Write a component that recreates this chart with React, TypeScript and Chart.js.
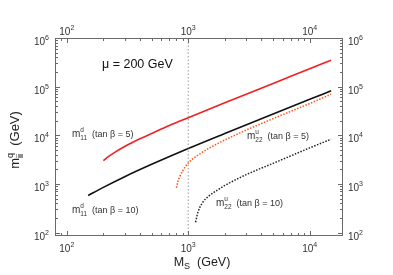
import React, { useEffect, useRef } from 'react';
import { Chart, registerables } from 'chart.js';
Chart.register(...registerables);

const FONT = '"Liberation Sans", Arial, Helvetica, sans-serif';

// axis ranges
const xMin = 80;
const xMax = 18800;
const yMin = 85;
const yMax = 1e6;

// major tick labels (10^k)
const xTickValues = [100, 1000, 10000];
const xTickExps = ['2', '3', '4'];
const yTickValues = [100, 1000, 10000, 100000, 1000000];
const yTickExps = ['2', '3', '4', '5', '6'];

// m11^d (tan beta = 5) - red solid
const redMs = [200, 220, 250, 300, 400, 500, 700, 1000, 2000, 5000, 10000, 15000];
const redM = [3000, 3630, 4510, 5880, 8450, 10900, 15900, 23000, 46500, 116000, 233000, 350000];

// m11^d (tan beta = 10) - black solid
const blackMs = [150, 200, 300, 500, 1000, 2000, 5000, 10000, 15000];
const blackM = [580, 850, 1410, 2530, 5350, 10900, 27500, 55000, 82000];

// m22^u (tan beta = 5) - orange dotted
const orangeMs = [800, 820, 850, 900, 1000, 1200, 1500, 2000, 3000, 5000, 10000, 15000];
const orangeM = [830, 1100, 1400, 1850, 2700, 3900, 5500, 8000, 12800, 22000, 45000, 70000];

// m22^u (tan beta = 10) - black dotted
const dotMs = [1150, 1180, 1200, 1300, 1500, 1700, 2000, 3000, 5000, 10000, 15000];
const dotM = [163, 220, 260, 400, 580, 720, 930, 1550, 2650, 5500, 8300];

// vertical reference line at M_S = 1 TeV
const refLineMs = [1000, 1000];
const refLineM = [yMin, yMax];

const pts = (xs: number[], ys: number[]) => xs.map((x, i) => ({ x, y: ys[i] }));

type Part = { t?: string; s: number; sup?: string; sub?: string; dyUp?: number; dyDown?: number; ss?: number };

function richWidth(ctx: CanvasRenderingContext2D, parts: Part[]) {
  let w = 0;
  for (const p of parts) {
    if (p.t !== undefined) {
      ctx.font = `${p.s}px ${FONT}`;
      w += ctx.measureText(p.t).width;
    } else {
      ctx.font = `${p.ss ?? p.s}px ${FONT}`;
      const a = p.sup ? ctx.measureText(p.sup).width : 0;
      const b = p.sub ? ctx.measureText(p.sub).width : 0;
      w += Math.max(a, b);
    }
  }
  return w;
}

function drawRich(ctx: CanvasRenderingContext2D, x: number, y: number, parts: Part[]) {
  let cx = x;
  for (const p of parts) {
    if (p.t !== undefined) {
      ctx.font = `${p.s}px ${FONT}`;
      ctx.fillText(p.t, cx, y);
      cx += ctx.measureText(p.t).width;
    } else {
      ctx.font = `${p.ss ?? p.s}px ${FONT}`;
      let w = 0;
      if (p.sup) {
        ctx.fillText(p.sup, cx, y - (p.dyUp ?? 5));
        w = Math.max(w, ctx.measureText(p.sup).width);
      }
      if (p.sub) {
        ctx.fillText(p.sub, cx, y + (p.dyDown ?? 3));
        w = Math.max(w, ctx.measureText(p.sub).width);
      }
      cx += w;
    }
  }
}

const framePlugin = {
  id: 'framePlugin',
  afterDraw(chart: any) {
    const ctx: CanvasRenderingContext2D = chart.ctx;
    const { left, right, top, bottom } = chart.chartArea;
    const xs = chart.scales.x;
    const ys = chart.scales.y;
    ctx.save();
    ctx.strokeStyle = '#6a6a6a';
    ctx.lineWidth = 1;
    ctx.strokeRect(left + 0.5, top + 0.5, right - left - 1, bottom - top - 1);

    // ticks
    ctx.beginPath();
    for (let d = 10; d <= 100000; d *= 10) {
      for (let m = 1; m <= 9; m++) {
        const v = m * d;
        const len = m === 1 ? 5 : 3;
        if (v >= xMin && v <= xMax) {
          const px = Math.round(xs.getPixelForValue(v)) + 0.5;
          ctx.moveTo(px, bottom);
          ctx.lineTo(px, bottom - len);
          ctx.moveTo(px, top);
          ctx.lineTo(px, top + len);
        }
        if (v >= yMin && v <= yMax) {
          const py = Math.round(ys.getPixelForValue(v)) + 0.5;
          ctx.moveTo(left, py);
          ctx.lineTo(left + len, py);
          ctx.moveTo(right, py);
          ctx.lineTo(right - len, py);
        }
      }
    }
    ctx.stroke();

    // tick labels
    ctx.fillStyle = '#333';
    ctx.textBaseline = 'alphabetic';
    ctx.textAlign = 'left';
    const lab = (e: string): Part[] => [{ t: '10', s: 10 }, { s: 10, ss: 7, sup: e, dyUp: 5 }];
    xTickValues.forEach((v, i) => {
      const px = xs.getPixelForValue(v);
      const parts = lab(xTickExps[i]);
      const w = richWidth(ctx, parts);
      drawRich(ctx, px - w / 2, bottom + 16, parts);
      drawRich(ctx, px - w / 2, top - 3, parts);
    });
    yTickValues.forEach((v, i) => {
      const py = ys.getPixelForValue(v);
      const parts = lab(yTickExps[i]);
      const w = richWidth(ctx, parts);
      drawRich(ctx, left - 6 - w, py + 7, parts);
      drawRich(ctx, right + 5, py + 7, parts);
    });

    // axis titles
    ctx.fillStyle = '#222';
    const xt: Part[] = [{ t: 'M', s: 12.5 }, { s: 12.5, ss: 9, sub: 'S', dyDown: 3 }, { t: '  (GeV)', s: 12.5 }];
    const xtw = richWidth(ctx, xt);
    drawRich(ctx, (left + right) / 2 - xtw / 2 + 3, 266, xt);

    ctx.save();
    ctx.translate(19, 140);
    ctx.rotate(-Math.PI / 2);
    const yt: Part[] = [{ t: 'm', s: 13 }, { s: 13, ss: 9, sup: 'q', sub: 'ii', dyUp: 6, dyDown: 4 }, { t: '  (GeV)', s: 13 }];
    const ytw = richWidth(ctx, yt);
    drawRich(ctx, -ytw / 2, 0, yt);
    ctx.restore();

    // annotations
    ctx.fillStyle = '#111';
    drawRich(ctx, 102, 68, [{ t: '\u03bc = 200 GeV', s: 12.5 }]);
    ctx.fillStyle = '#333';
    const ann = (sup: string, sub: string, tb: string): Part[] => [
      { t: 'm', s: 10 },
      { s: 10, ss: 6.5, sup, sub, dyUp: 5, dyDown: 2.5 },
      { t: '  (tan \u03b2 = ' + tb + ')', s: 9 },
    ];
    drawRich(ctx, 72, 137, ann('d', '11', '5'));
    drawRich(ctx, 72, 213, ann('d', '11', '10'));
    drawRich(ctx, 247, 139, ann('u', '22', '5'));
    drawRich(ctx, 216, 206, ann('u', '22', '10'));
    ctx.restore();
  },
};

export default function App() {
  const ref = useRef<HTMLCanvasElement | null>(null);
  useEffect(() => {
    if (!ref.current) return;
    const logAxis = (min: number, max: number, position: string, fit: (s: any) => void) => ({
      type: 'logarithmic' as const,
      position,
      min,
      max,
      ticks: { display: false },
      grid: { display: false, drawTicks: false },
      border: { display: false },
      afterFit: fit,
    });
    const chart = new Chart(ref.current, {
      type: 'scatter',
      data: {
        datasets: [
          {
            data: pts(refLineMs, refLineM),
            showLine: true,
            borderColor: '#9a9a9a',
            borderWidth: 1,
            borderDash: [1.5, 2],
            pointRadius: 0,
          },
          {
            data: pts(redMs, redM),
            showLine: true,
            borderColor: '#f22020',
            borderWidth: 1.6,
            pointRadius: 0,
            cubicInterpolationMode: 'monotone',
          },
          {
            data: pts(blackMs, blackM),
            showLine: true,
            borderColor: '#111111',
            borderWidth: 1.6,
            pointRadius: 0,
            cubicInterpolationMode: 'monotone',
          },
          {
            data: pts(orangeMs, orangeM),
            showLine: true,
            borderColor: '#ff5a1e',
            borderWidth: 1.6,
            borderDash: [1.5, 1.5],
            pointRadius: 0,
            cubicInterpolationMode: 'monotone',
          },
          {
            data: pts(dotMs, dotM),
            showLine: true,
            borderColor: '#222222',
            borderWidth: 1.5,
            borderDash: [1.5, 1.5],
            pointRadius: 0,
            cubicInterpolationMode: 'monotone',
          },
        ],
      },
      options: {
        animation: false,
        responsive: true,
        maintainAspectRatio: false,
        layout: { padding: 0 },
        plugins: { legend: { display: false }, tooltip: { enabled: false } },
        scales: {
          x: logAxis(xMin, xMax, 'bottom', (s: any) => { s.height = 39; }),
          x2: logAxis(xMin, xMax, 'top', (s: any) => { s.height = 38; }),
          y: logAxis(yMin, yMax, 'left', (s: any) => { s.width = 55; }),
          y2: logAxis(yMin, yMax, 'right', (s: any) => { s.width = 50; }),
        },
      } as any,
      plugins: [framePlugin],
    });
    return () => chart.destroy();
  }, []);
  return (
    <div style={{ position: 'fixed', left: 0, top: 0, width: 393, height: 275, background: '#fff' }}>
      <canvas ref={ref} />
    </div>
  );
}
